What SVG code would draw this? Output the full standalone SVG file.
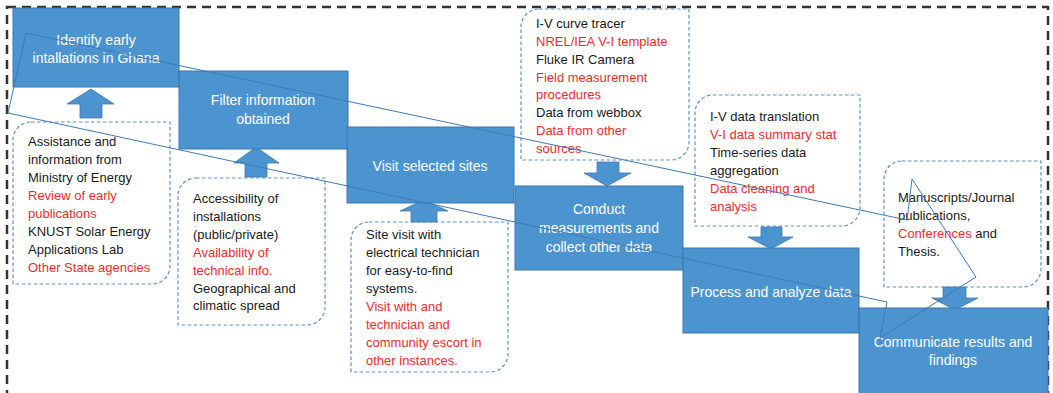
<svg xmlns="http://www.w3.org/2000/svg" width="1053" height="393" viewBox="0 0 1053 393">
<style>
.box{fill:#4b94d0;stroke:#3f77aa;stroke-width:1}
.arr{fill:#4b94d0;stroke:#3f77aa;stroke-width:0.8}
.note{fill:#fff;stroke:#5b92c8;stroke-width:1.2;stroke-dasharray:3.5 2.5}
.wt{font-family:"Liberation Sans",Arial,sans-serif;font-size:14px;fill:#ffffff;text-anchor:middle}
.bt{font-family:"Liberation Sans",Arial,sans-serif;font-size:13px;fill:#1a1a1a}
.r{fill:#f42a2a}
.k{fill:#1a1a1a}
</style>
<rect x="7" y="7" width="1041" height="400" fill="#fff" stroke="#333" stroke-width="2.5" stroke-dasharray="9 6"/>

<g id="notes-bg">
<path class="note" d="M31,122 H170 V266 A18,18 0 0 1 152,284 H13 V140 A18,18 0 0 1 31,122 Z"/>
<path class="note" d="M196,178 H325 V307 A18,18 0 0 1 307,325 H178 V196 A18,18 0 0 1 196,178 Z"/>
<path class="note" d="M369,222 H508 V354 A18,18 0 0 1 490,372 H351 V240 A18,18 0 0 1 369,222 Z"/>
<path class="note" d="M539,9 H689 V142 A18,18 0 0 1 671,160 H521 V27 A18,18 0 0 1 539,9 Z"/>
<path class="note" d="M713,95 H860 V208 A18,18 0 0 1 842,226 H695 V113 A18,18 0 0 1 713,95 Z"/>
<path class="note" d="M902,161 H1041 V269 A18,18 0 0 1 1023,287 H884 V179 A18,18 0 0 1 902,161 Z"/>
</g>

<g id="connectors">
<polygon class="arr" points="91,89 114,104 102,104 102,118 80,118 80,104 67,104"/>
<polygon class="arr" points="256,147 279,163 267,163 267,177 245,177 245,163 234,163"/>
<polygon class="arr" points="424,200 448,211 437,211 437,222 411,222 411,211 400,211"/>
<polygon class="arr" points="597,162 619,162 619,173 631,173 607,186 584,173 597,173"/>
<polygon class="arr" points="761,227 782,227 782,237 793,237 771,249 748,237 761,237"/>
<polygon class="arr" points="943,287 966,287 966,298 978,298 955,310 932,298 943,298"/>
</g>

<g id="node-identify">
<rect class="box" x="13" y="8" width="166" height="79"/>
<text class="wt" x="96" y="45">Identify early</text>
<text class="wt" x="96" y="63">intallations in Ghana</text>
</g>
<g id="node-filter">
<rect class="box" x="179" y="71" width="169" height="78"/>
<text class="wt" x="263" y="105">Filter information</text>
<text class="wt" x="263" y="124">obtained</text>
</g>
<g id="node-visit">
<rect class="box" x="347" y="127" width="167" height="76"/>
<text class="wt" x="430" y="171">Visit selected sites</text>
</g>
<g id="node-conduct">
<rect class="box" x="515" y="186" width="168" height="84"/>
<text class="wt" x="599" y="214">Conduct</text>
<text class="wt" x="599" y="233">measurements and</text>
<text class="wt" x="599" y="252">collect other data</text>
</g>
<g id="node-process">
<rect class="box" x="683" y="248" width="176" height="85"/>
<text class="wt" x="771" y="297">Process and analyze data</text>
</g>
<g id="node-communicate">
<rect class="box" x="859" y="308" width="189" height="95"/>
<text class="wt" x="953" y="347">Communicate results and</text>
<text class="wt" x="953" y="365">findings</text>
</g>

<g id="note-sources" class="bt">
<text x="28" y="146">Assistance and</text>
<text x="28" y="164">information from</text>
<text x="28" y="182">Ministry of Energy</text>
<text x="28" y="200" class="r">Review of early</text>
<text x="28" y="218" class="r">publications</text>
<text x="28" y="236">KNUST Solar Energy</text>
<text x="28" y="254">Applications Lab</text>
<text x="28" y="272" class="r">Other State agencies</text>
</g>
<g id="note-filter" class="bt">
<text x="193" y="203">Accessibility of</text>
<text x="193" y="221">installations</text>
<text x="193" y="239">(public/private)</text>
<text x="193" y="257" class="r">Availability of</text>
<text x="193" y="275" class="r">technical info.</text>
<text x="193" y="293">Geographical and</text>
<text x="193" y="310">climatic spread</text>
</g>
<g id="note-visit" class="bt">
<text x="366" y="239">Site visit with</text>
<text x="366" y="257">electrical technician</text>
<text x="366" y="275">for easy-to-find</text>
<text x="366" y="293">systems.</text>
<text x="366" y="311" class="r">Visit with and</text>
<text x="366" y="329" class="r">technician and</text>
<text x="366" y="347" class="r">community escort in</text>
<text x="366" y="365" class="r">other instances.</text>
</g>
<g id="note-measure" class="bt">
<text x="536" y="28">I-V curve tracer</text>
<text x="536" y="46" class="r">NREL/IEA V-I template</text>
<text x="536" y="64">Fluke IR Camera</text>
<text x="536" y="82" class="r">Field measurement</text>
<text x="536" y="99" class="r">procedures</text>
<text x="536" y="117">Data from webbox</text>
<text x="536" y="135" class="r">Data from other</text>
<text x="536" y="153" class="r">sources</text>
</g>
<g id="note-process" class="bt">
<text x="710" y="121">I-V data translation</text>
<text x="710" y="139" class="r">V-I data summary stat</text>
<text x="710" y="157">Time-series data</text>
<text x="710" y="175">aggregation</text>
<text x="710" y="193" class="r">Data cleaning and</text>
<text x="710" y="211" class="r">analysis</text>
</g>
<g id="note-communicate" class="bt">
<text x="898" y="202">Manuscripts/Journal</text>
<text x="898" y="220">publications,</text>
<text x="898" y="238"><tspan class="r">Conferences</tspan><tspan class="k"> and</tspan></text>
<text x="898" y="256">Thesis.</text>
</g>

<g id="stray-outline">
<polygon points="26,33 907,220 912,179 976,277 880,338 887,302 8,113" fill="none" stroke="#3f7ab8" stroke-width="1"/>
</g>
</svg>
